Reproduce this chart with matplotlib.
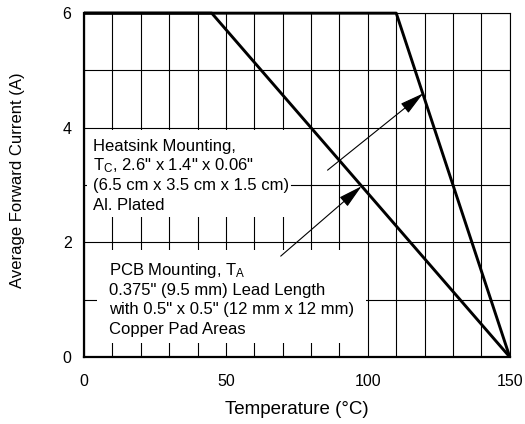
import matplotlib
matplotlib.use("Agg")
import matplotlib.pyplot as plt
from matplotlib.patches import Rectangle

plt.rcParams["font.family"] = ["Liberation Sans", "DejaVu Sans"]
plt.rcParams["mathtext.fontset"] = "custom"
plt.rcParams["mathtext.rm"] = "Liberation Sans"
plt.rcParams["mathtext.it"] = "Liberation Sans"

# derating curves: temperature (°C) vs average forward current (A)
heatsink_temp = [0, 110, 150]
heatsink_curr = [6, 6, 0]
pcb_temp = [0, 45, 150]
pcb_curr = [6, 6, 0]

x_ticks = [0, 50, 100, 150]
y_ticks = [0, 2, 4, 6]

heatsink_lines = ["Heatsink Mounting,",
                  'T$_{\\mathrm{C}}$, 2.6" x 1.4" x 0.06"',
                  "(6.5 cm x 3.5 cm x 1.5 cm)",
                  "Al. Plated"]
pcb_lines = ["PCB Mounting, T$_{\\mathrm{A}}$",
             '0.375" (9.5 mm) Lead Length',
             'with 0.5" x 0.5" (12 mm x 12 mm)',
             "Copper Pad Areas"]

# arrow (tail, head) in data units
heatsink_arrow = ((85.8, 3.26), (119.5, 4.6))
pcb_arrow = ((69.3, 1.76), (97.8, 2.98))

fig = plt.figure(figsize=(5.25, 4.24), dpi=100)
ax = fig.add_axes([0.16, 0.158, 0.811, 0.811])

ax.set_xlim(0, 150)
ax.set_ylim(0, 6)
ax.set_xticks(x_ticks)
ax.set_yticks(y_ticks)
ax.set_xticks(range(0, 151, 10), minor=True)
ax.set_yticks(range(0, 7), minor=True)
ax.tick_params(which="both", length=0, labelsize=11.5)
ax.tick_params(axis="x", pad=12)
ax.tick_params(axis="y", pad=9)
ax.set_axisbelow(True)
ax.grid(which="both", color="black", linewidth=0.8)

for side in ("left", "bottom"):
    ax.spines[side].set_linewidth(1.6)
for side in ("top", "right"):
    ax.spines[side].set_linewidth(0.8)

# white label areas covering the grid
ax.add_patch(Rectangle((1.0, 2.44), 78.5, 1.52, facecolor="white",
                       edgecolor="none", zorder=1))
ax.add_patch(Rectangle((4.6, 0.24), 94.9, 1.63, facecolor="white",
                       edgecolor="none", zorder=1))
ax.plot([73, 80], [3, 3], color="black", linewidth=0.8, zorder=1.5)

ax.plot(heatsink_temp, heatsink_curr, color="black", linewidth=2.1,
        solid_capstyle="butt", zorder=3, clip_on=False)
ax.plot(pcb_temp, pcb_curr, color="black", linewidth=2.1,
        solid_capstyle="butt", zorder=3, clip_on=False)

for i, line in enumerate(heatsink_lines):
    ax.text(3.2, 3.60 - 0.344 * i, line, fontsize=12, va="baseline", zorder=2)
for i, line in enumerate(pcb_lines):
    ax.text(8.9, 1.43 - 0.344 * i, line, fontsize=12, va="baseline", zorder=2)

for tail, head in (heatsink_arrow, pcb_arrow):
    ax.annotate("", xy=head, xytext=tail, zorder=4,
                arrowprops=dict(arrowstyle="-|>,head_length=0.6,head_width=0.15",
                                mutation_scale=25, color="black", lw=0.8,
                                shrinkA=0, shrinkB=0))

ax.set_xlabel("Temperature (°C)", fontsize=13.5, labelpad=9)
ax.set_ylabel("Average Forward Current (A)", fontsize=12)
ax.yaxis.set_label_coords(-0.138, 0.515)

fig.savefig("out.png", dpi=100)
